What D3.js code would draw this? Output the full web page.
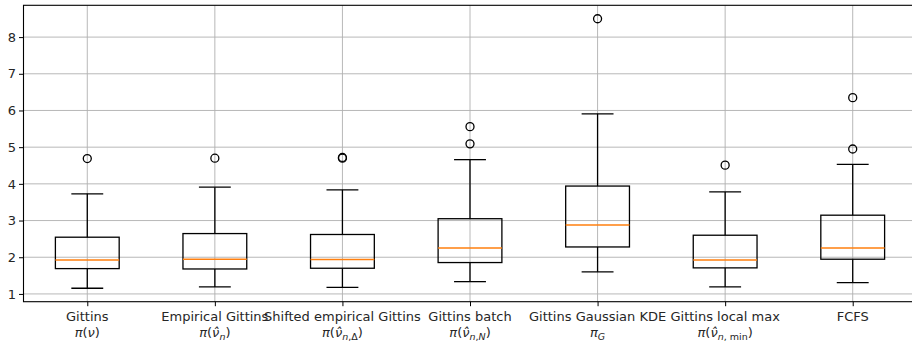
<!DOCTYPE html>
<html>
<head>
<meta charset="utf-8">
<script src="https://cdn.jsdelivr.net/npm/d3@7"></script>
<style>
  body { margin: 0; background: #fff; }
  svg { display: block; font-family: "DejaVu Sans", sans-serif; }
</style>
</head>
<body>
<div id="chart"></div>
<script>
// box statistics
const categories = ["Gittins", "Empirical Gittins", "Shifted empirical Gittins", "Gittins batch",
  "Gittins Gaussian KDE", "Gittins local max", "FCFS"];
const whisLo = [1.155, 1.19, 1.18, 1.335, 1.60, 1.19, 1.31];
const q1 = [1.69, 1.68, 1.70, 1.855, 2.28, 1.71, 1.946];
const median = [1.927, 1.946, 1.935, 2.254, 2.88, 1.927, 2.254];
const q3 = [2.546, 2.645, 2.62, 3.05, 3.94, 2.60, 3.146];
const whisHi = [3.727, 3.91, 3.836, 4.66, 5.91, 3.78, 4.53];
const fliers = [[4.69], [4.70], [4.70, 4.72], [5.09, 5.56], [8.50], [4.51], [4.95, 6.35]];
const yTicks = [1, 2, 3, 4, 5, 6, 7, 8];

// second label line: [text, kind]  i = italic, r = roman, si/sr = subscript
const mathLabels = [
  [["π", "i"], ["(", "r"], ["ν", "i"], [")", "r"]],
  [["π", "i"], ["(", "r"], ["ν\u0302", "i"], ["n", "si"], [")", "r"]],
  [["π", "i"], ["(", "r"], ["ν\u0302", "i"], ["n", "si"], [",Δ", "sr"], [")", "r"]],
  [["π", "i"], ["(", "r"], ["ν\u0302", "i"], ["n", "si"], [",", "sr"], ["N", "si"], [")", "r"]],
  [["π", "i"], ["G", "si"]],
  [["π", "i"], ["(", "r"], ["ν\u0302", "i"], ["n", "si"], [", min", "sr"], [")", "r"]],
  []
];

const W = 912, H = 345;
const mLeft = 23.5, mRight = 916.5, mTop = 5.3, mBottom = 301.7;

const svg = d3.select("#chart").append("svg")
  .attr("width", W).attr("height", H);

const x = d3.scaleLinear().domain([0.5, 7.5]).range([mLeft, mRight]);
const y = d3.scaleLinear().domain([0.788, 8.867]).range([mBottom, mTop]);
const step = x(2) - x(1);

const plot = svg.append("g");

// grid
plot.selectAll(".hgrid").data(yTicks).enter().append("line")
  .attr("x1", mLeft).attr("x2", mRight)
  .attr("y1", d => y(d)).attr("y2", d => y(d))
  .attr("stroke", "#b0b0b0").attr("stroke-width", 0.9);
plot.selectAll(".vgrid").data(categories).enter().append("line")
  .attr("x1", (d, i) => x(i + 1)).attr("x2", (d, i) => x(i + 1))
  .attr("y1", mTop).attr("y2", mBottom)
  .attr("stroke", "#b0b0b0").attr("stroke-width", 0.9);

const boxes = plot.selectAll(".box").data(categories).enter().append("g")
  .attr("transform", (d, i) => `translate(${x(i + 1)},0)`);

const bw = step * 0.5, cw = step * 0.25;
const lw = 1.3;
// whiskers
boxes.append("line").attr("y1", (d, i) => y(q1[i])).attr("y2", (d, i) => y(whisLo[i]))
  .attr("stroke", "#000").attr("stroke-width", lw);
boxes.append("line").attr("y1", (d, i) => y(q3[i])).attr("y2", (d, i) => y(whisHi[i]))
  .attr("stroke", "#000").attr("stroke-width", lw);
// caps
boxes.append("line").attr("x1", -cw / 2).attr("x2", cw / 2)
  .attr("y1", (d, i) => y(whisLo[i])).attr("y2", (d, i) => y(whisLo[i]))
  .attr("stroke", "#000").attr("stroke-width", lw);
boxes.append("line").attr("x1", -cw / 2).attr("x2", cw / 2)
  .attr("y1", (d, i) => y(whisHi[i])).attr("y2", (d, i) => y(whisHi[i]))
  .attr("stroke", "#000").attr("stroke-width", lw);
// box
boxes.append("rect").attr("x", -bw / 2).attr("width", bw)
  .attr("y", (d, i) => y(q3[i])).attr("height", (d, i) => y(q1[i]) - y(q3[i]))
  .attr("fill", "none").attr("stroke", "#000").attr("stroke-width", lw);
// median
boxes.append("line").attr("x1", -bw / 2).attr("x2", bw / 2)
  .attr("y1", (d, i) => y(median[i])).attr("y2", (d, i) => y(median[i]))
  .attr("stroke", "#ff7f0e").attr("stroke-width", 1.5);
// fliers
boxes.selectAll("circle").data((d, i) => fliers[i]).enter().append("circle")
  .attr("cx", 0).attr("cy", v => y(v)).attr("r", 4)
  .attr("fill", "none").attr("stroke", "#000").attr("stroke-width", lw);

// spines
svg.append("rect").attr("x", mLeft).attr("y", mTop)
  .attr("width", mRight - mLeft).attr("height", mBottom - mTop)
  .attr("fill", "none").attr("stroke", "#000").attr("stroke-width", 1.1);

// y axis
const yAxis = svg.append("g").attr("transform", `translate(${mLeft},0)`)
  .call(d3.axisLeft(y).tickValues(yTicks).tickSize(4.5).tickPadding(3).tickFormat(d3.format("d")));
yAxis.select(".domain").remove();
yAxis.selectAll("text").attr("font-size", 13).attr("font-family", "DejaVu Sans").attr("fill", "#262626");

// x axis
const xAxis = svg.append("g").attr("transform", `translate(0,${mBottom})`)
  .call(d3.axisBottom(x).tickValues(d3.range(1, 8)).tickSize(4.5).tickFormat(""));
xAxis.select(".domain").remove();

const lab = svg.append("g").selectAll("g").data(categories).enter().append("g")
  .attr("transform", (d, i) => `translate(${x(i + 1)},0)`);
lab.append("text").attr("y", 321).attr("text-anchor", "middle")
  .attr("font-size", 13).attr("fill", "#262626").text(d => d);
const mt = lab.append("text").attr("y", 337).attr("text-anchor", "middle")
  .attr("font-size", 13).attr("fill", "#262626");
mt.each(function (d, i) {
  const t = d3.select(this);
  let sub = false;
  mathLabels[i].forEach(([s, k]) => {
    const isSub = k[0] === "s";
    const ts = t.append("tspan").text(s)
      .attr("font-style", k.endsWith("i") ? "italic" : "normal")
      .attr("font-size", isSub ? 9.5 : 13);
    if (isSub && !sub) ts.attr("dy", 3);
    if (!isSub && sub) ts.attr("dy", -3);
    sub = isSub;
  });
});
</script>
</body>
</html>
